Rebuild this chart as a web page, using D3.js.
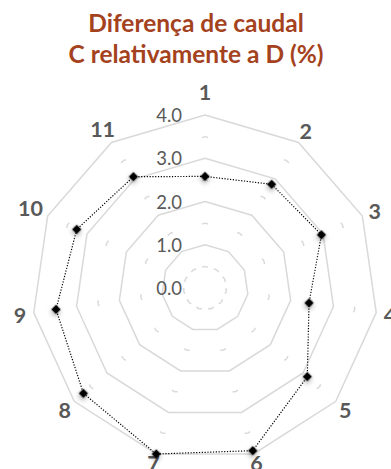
<!DOCTYPE html>
<html>
<head>
<meta charset="utf-8">
<script src="https://cdn.jsdelivr.net/npm/d3@7"></script>
<style>
  html, body { margin: 0; padding: 0; background: #fff; }
  svg { display: block; }
</style>
</head>
<body>
<svg id="chart" width="391" height="469"></svg>
<script>
// Radar chart: flow difference of C relative to D, per point 1..11
const categories = ["1", "2", "3", "4", "5", "6", "7", "8", "9", "10", "11"];
const values = [2.58, 2.85, 2.96, 2.43, 3.13, 3.92, 4.0, 3.72, 3.48, 3.26, 3.06];
const majorTicks = [0, 1, 2, 3, 4];
const minorTicks = [0.5, 1.5, 2.5, 3.5];
const titleLines = ["Diferença de caudal", "C relativamente a D (%)"];

const W = 391, H = 469;
const cx = 205, cy = 288, R = 173;
const gridColor = "#d9d9d9";
const textGray = "#595959";

const svg = d3.select("#chart");

// soft shadow under the markers
const defs = svg.append("defs");
const f = defs.append("filter").attr("id", "markerShadow")
  .attr("x", "-100%").attr("y", "-100%").attr("width", "300%").attr("height", "300%");
f.append("feDropShadow").attr("dx", 1.5).attr("dy", 2).attr("stdDeviation", 2.6)
  .attr("flood-color", "#000").attr("flood-opacity", 0.35);

const r = d3.scaleLinear().domain([0, 4]).range([0, R]);
const angle = d3.scalePoint().domain(categories).range([0, 2 * Math.PI * (categories.length - 1) / categories.length]);

const pt = (cat, v) => {
  const a = angle(cat), rr = r(v);
  return [cx + rr * Math.sin(a), cy - rr * Math.cos(a)];
};

const g = svg.append("g");

// major rings (solid)
majorTicks.filter(t => t > 0).forEach(t => {
  g.append("path")
    .attr("d", d3.line()(categories.map(c => pt(c, t))) + "Z")
    .attr("fill", "none").attr("stroke", gridColor).attr("stroke-width", 1.5);
});

// minor rings: short dashes centred on every vertex
minorTicks.forEach(t => {
  categories.forEach((c, i) => {
    const p0 = pt(c, t), p1 = pt(categories[(i + 1) % categories.length], t);
    const L = Math.hypot(p1[0] - p0[0], p1[1] - p0[1]);
    const d = Math.min(3, L / 4);
    g.append("line")
      .attr("x1", p0[0]).attr("y1", p0[1]).attr("x2", p1[0]).attr("y2", p1[1])
      .attr("stroke", gridColor).attr("stroke-width", 1.5)
      .attr("stroke-dasharray", `${d},${L - 2 * d},${d}`);
  });
});

// value axis labels
g.selectAll("text.tick").data(majorTicks).join("text")
  .attr("class", "tick")
  .attr("x", cx - 23).attr("y", d => cy - r(d))
  .attr("text-anchor", "end").attr("dominant-baseline", "central")
  .attr("font-family", "Lato, 'Open Sans', sans-serif").attr("font-size", 18.5)
  .attr("fill", textGray)
  .text(d => d3.format(".1f")(d));

// category labels placed just outside the outer ring
const labelFont = 21.5;
categories.forEach(c => {
  const a = angle(c);
  const s = Math.sin(a), co = Math.cos(a);
  const w = c.length * labelFont * 0.56;
  const rr = R + 8 + Math.abs(s) * w / 2 + 15 * Math.pow(Math.max(0, co), 12);
  g.append("text")
    .attr("x", cx + rr * s).attr("y", cy - rr * co)
    .attr("text-anchor", "middle").attr("dominant-baseline", "central")
    .attr("font-family", "Lato, 'Open Sans', sans-serif").attr("font-weight", "bold")
    .attr("font-size", labelFont).attr("fill", textGray)
    .text(c);
});

// data series: dotted outline
const series = categories.map((c, i) => pt(c, values[i]));
g.append("path")
  .attr("d", d3.line()(series) + "Z")
  .attr("fill", "none").attr("stroke", "#000").attr("stroke-width", 1.2)
  .attr("stroke-dasharray", "1.2,1.6");

// diamond markers
g.selectAll("path.marker").data(series).join("path")
  .attr("class", "marker")
  .attr("d", d3.symbol().type(d3.symbolSquare).size(44))
  .attr("transform", d => `translate(${d[0]},${d[1]}) rotate(45)`)
  .attr("fill", "#000")
  .attr("filter", "url(#markerShadow)");

// title
svg.append("text")
  .attr("x", 196).attr("y", 32)
  .attr("text-anchor", "middle")
  .attr("font-family", "Lato, 'Open Sans', sans-serif").attr("font-weight", "bold")
  .attr("font-size", 24.5).attr("fill", "#A5421E")
  .selectAll("tspan").data(titleLines).join("tspan")
  .attr("x", 196).attr("dy", (d, i) => i === 0 ? 0 : 31)
  .text(d => d);
</script>
</body>
</html>
